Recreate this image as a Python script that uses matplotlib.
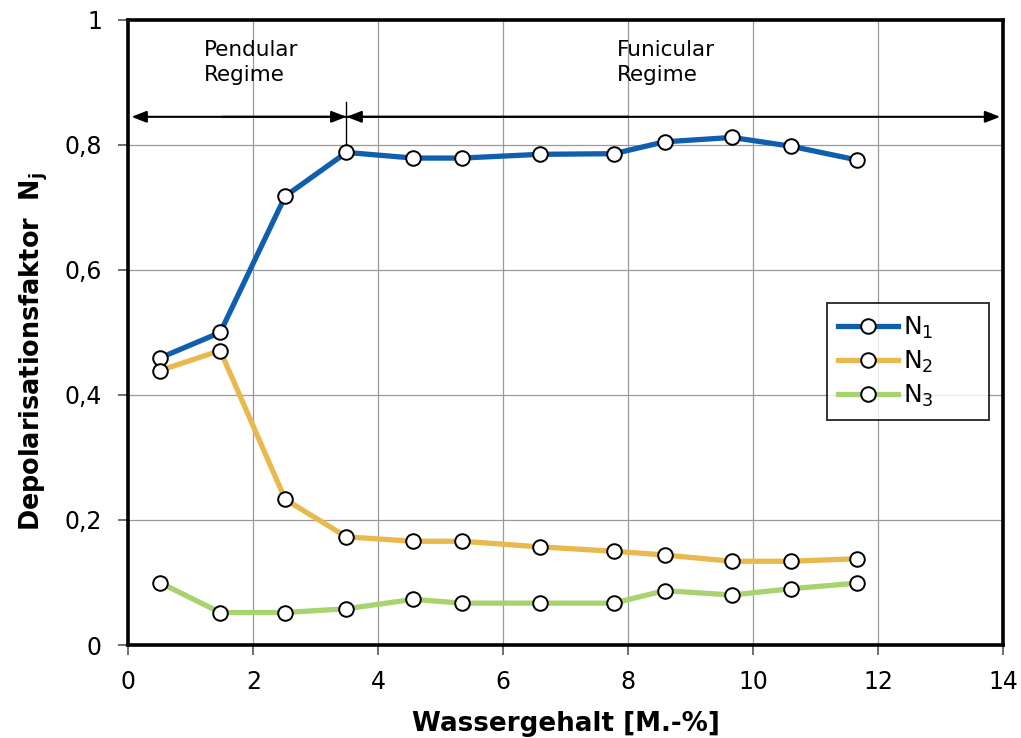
import matplotlib

matplotlib.use("Agg")
import matplotlib.pyplot as plt
from matplotlib.ticker import FuncFormatter

# water content [M.-%] and depolarisation factors
water = [0.50, 1.47, 2.51, 3.49, 4.56, 5.34, 6.58, 7.77, 8.58, 9.66, 10.60, 11.66]
n1 = [0.459, 0.500, 0.718, 0.788, 0.779, 0.779, 0.785, 0.786, 0.805, 0.812, 0.798, 0.776]
n2 = [0.439, 0.471, 0.233, 0.173, 0.166, 0.166, 0.157, 0.150, 0.144, 0.134, 0.134, 0.138]
n3 = [0.100, 0.052, 0.052, 0.058, 0.073, 0.067, 0.067, 0.067, 0.087, 0.080, 0.090, 0.099]

series_labels = ["N$_1$", "N$_2$", "N$_3$"]
series_colors = ["#0f5fae", "#e8b94e", "#a8d36f"]

regime_split = 3.49
regime_arrow_y = 0.845
x_ticks = [0, 2, 4, 6, 8, 10, 12, 14]
y_ticks = [0, 0.2, 0.4, 0.6, 0.8, 1.0]

plt.rcParams["font.family"] = ["DejaVu Sans"]
plt.rcParams["mathtext.fontset"] = "dejavusans"

fig = plt.figure(figsize=(10.21, 7.38), dpi=100)
ax = fig.add_axes([0.1257, 0.126, 0.857, 0.847])

for values, label, color in zip([n1, n2, n3], series_labels, series_colors):
    ax.plot(
        water, values, color=color, linewidth=3.8, marker="o", markersize=10.5,
        markerfacecolor="white", markeredgecolor="black", markeredgewidth=1.4,
        label=label, zorder=3,
    )

ax.set_xlim(0, 14)
ax.set_ylim(0, 1)
ax.set_xticks(x_ticks)
ax.set_yticks(y_ticks)
ax.yaxis.set_major_formatter(
    FuncFormatter(lambda v, pos: ("%g" % round(v, 1)).replace(".", ","))
)
ax.grid(True, color="#9a9a9a", linewidth=0.9)
ax.set_axisbelow(True)
ax.tick_params(axis="both", labelsize=17, length=7, width=1.2, color="#555555",
               direction="out")
ax.tick_params(axis="y", pad=12)
ax.tick_params(axis="x", pad=11)
for spine in ax.spines.values():
    spine.set_linewidth(2.6)
    spine.set_color("black")

ax.set_xlabel("Wassergehalt [M.-%]", fontsize=18.8, fontweight="bold", labelpad=12)
ax.set_ylabel(r"Depolarisationsfaktor  $\mathbf{N_j}$", fontsize=18.4,
              fontweight="bold", labelpad=12)
ax.yaxis.set_label_coords(-0.09, 0.47)

# regime arrows
arrow_style = dict(arrowstyle="-|>,head_length=0.9,head_width=0.35",
                   color="black", linewidth=1.5, shrinkA=0, shrinkB=0)
ax.annotate("", xy=(0.05, regime_arrow_y), xytext=(regime_split, regime_arrow_y),
            arrowprops=arrow_style, zorder=4)
ax.annotate("", xy=(regime_split, regime_arrow_y), xytext=(1.5, regime_arrow_y),
            arrowprops=arrow_style, zorder=4)
ax.annotate("", xy=(regime_split, regime_arrow_y), xytext=(8.0, regime_arrow_y),
            arrowprops=arrow_style, zorder=4)
ax.annotate("", xy=(13.95, regime_arrow_y), xytext=(regime_split, regime_arrow_y),
            arrowprops=arrow_style, zorder=4)
ax.plot([regime_split, regime_split], [0.868, 0.80], color="black",
        linewidth=1.0, zorder=4)

ax.text(1.21, 0.968, "Pendular\nRegime", fontsize=15.5, va="top", ha="left",
        linespacing=1.3)
ax.text(7.81, 0.968, "Funicular\nRegime", fontsize=15.5, va="top", ha="left",
        linespacing=1.3)

legend = ax.legend(loc="upper left", bbox_to_anchor=(0.798, 0.363, 0.186, 0.184),
                   mode="expand", fontsize=18, frameon=True, fancybox=False,
                   edgecolor="black", handlelength=2.4, handletextpad=0.2,
                   borderpad=0.45, labelspacing=0.32, borderaxespad=0)
legend.get_frame().set_linewidth(1.4)
for text in legend.get_texts():
    text.set_ha("left")

fig.savefig("out.png", dpi=100)
